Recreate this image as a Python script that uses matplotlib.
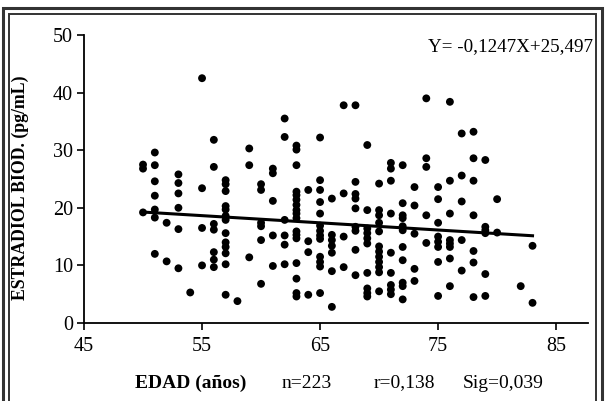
import matplotlib
matplotlib.use("Agg")
import matplotlib.pyplot as plt
from matplotlib.patches import Rectangle
import numpy as np

# ---------------------------------------------------------------------------
# Data (age in years, bioavailable estradiol pg/mL)
# ---------------------------------------------------------------------------
edad = (
    [50] * 3 + [51] * 7 + [52] * 2 + [53] * 6 + [54] * 1 + [55] * 4
    + [56] * 7 + [57] * 13 + [58] * 1 + [59] * 3 + [60] * 6 + [61] * 5
    + [62] * 6 + [63] * 17 + [64] * 4 + [65] * 13 + [66] * 7 + [67] * 4
    + [68] * 9 + [69] * 10 + [70] * 12 + [71] * 9 + [72] * 11 + [73] * 5
    + [74] * 5 + [75] * 8 + [76] * 8 + [77] * 5 + [78] * 7 + [79] * 6
    + [80] * 2 + [82] * 1 + [83] * 2
)
estradiol = [
    27.5, 26.8, 19.2,                                   # 50
    29.6, 27.4, 24.6, 22.1, 19.7, 18.3, 12.0,           # 51
    17.4, 10.7,                                         # 52
    25.8, 24.3, 22.5, 20.0, 16.3, 9.5,                  # 53
    5.3,                                                # 54
    42.5, 23.4, 16.5, 10.0,                             # 55
    31.8, 27.1, 17.2, 16.2, 12.3, 11.0, 9.7,            # 56
    24.8, 24.1, 22.9, 20.3, 19.7, 18.6, 17.9, 15.6,
    14.0, 13.2, 12.1, 10.2, 4.9,                        # 57
    3.8,                                                # 58
    30.3, 27.4, 11.4,                                   # 59
    24.1, 23.1, 17.4, 16.8, 14.4, 6.8,                  # 60
    26.8, 26.0, 21.2, 15.2, 9.9,                        # 61
    35.5, 32.3, 17.9, 15.2, 13.6, 10.2,                 # 62
    30.8, 30.1, 27.4, 22.8, 22.2, 21.4, 20.5, 19.6, 19.0,
    18.2, 15.9, 15.3, 14.7, 10.4, 7.7, 5.2, 4.6,        # 63
    23.1, 14.2, 12.3, 4.9,                              # 64
    32.2, 24.8, 23.1, 21.0, 19.0, 16.9, 16.0, 15.2,
    14.6, 11.5, 10.6, 9.8, 5.2,                         # 65
    21.6, 15.3, 14.4, 13.4, 12.2, 9.0, 2.8,             # 66
    37.8, 22.5, 15.0, 9.7,                              # 67
    37.8, 24.5, 22.4, 21.6, 19.9, 16.7, 16.0, 12.7, 8.3,  # 68
    30.9, 19.6, 16.4, 15.6, 14.7, 13.8, 8.7, 6.0, 5.2, 4.6,  # 69
    24.2, 19.6, 17.4, 15.9, 13.3, 12.4, 11.5, 10.6,
    9.7, 8.8, 5.5, 18.7,                                # 70
    27.8, 26.8, 24.7, 19.0, 12.2, 8.7, 6.6, 5.8, 5.0,   # 71
    27.4, 20.8, 18.7, 18.2, 16.8, 16.1, 13.2, 10.9,
    7.0, 6.4, 4.1,                                      # 72
    23.6, 20.4, 15.5, 9.4, 7.3,                         # 73
    39.0, 28.6, 27.1, 18.7, 13.9,                       # 74
    23.6, 21.5, 17.4, 15.0, 14.1, 13.2, 10.6, 4.7,      # 75
    38.4, 24.7, 19.0, 14.4, 13.8, 13.2, 11.2, 6.4,      # 76
    32.9, 25.6, 21.1, 14.4, 9.1,                        # 77
    33.2, 28.6, 24.7, 18.7, 12.5, 10.5, 4.5,            # 78
    28.3, 16.7, 16.1, 15.6, 8.5, 4.7,                   # 79
    21.5, 15.7,                                         # 80
    6.4,                                                # 82
    13.4, 3.5,                                          # 83
]

# regression reported in the figure
SLOPE = -0.1247
INTERCEPT = 25.497
LINE_X = [50, 83]

x_ticks = [45, 55, 65, 75, 85]
y_ticks = [0, 10, 20, 30, 40, 50]

SERIF = ["Liberation Serif", "DejaVu Serif"]

W, H = 605, 401
fig = plt.figure(figsize=(W / 100, H / 100), dpi=100)
fig.patch.set_facecolor("white")

ax = fig.add_axes([84 / W, 1 - 323 / H, (588 - 84) / W, (323 - 35) / H])

ax.scatter(edad, estradiol, s=32, color="black", edgecolors="none", zorder=3)

line_x = np.array(LINE_X)
ax.plot(line_x, SLOPE * line_x + INTERCEPT, color="black", linewidth=2.2, zorder=4)

ax.set_xlim(45, 87.7)
ax.set_ylim(0, 50)
ax.set_xticks(x_ticks)
ax.set_yticks(y_ticks)
ax.spines["top"].set_visible(False)
ax.spines["right"].set_visible(False)
ax.spines["left"].set_linewidth(1.3)
ax.spines["bottom"].set_linewidth(1.3)
ax.tick_params(direction="out", length=5, width=1.2, pad=3, labelsize=14.5)
for lbl in ax.get_xticklabels() + ax.get_yticklabels():
    lbl.set_fontfamily(SERIF)
ax.xaxis.set_tick_params(pad=5)

fig.text(593 / W, 1 - 47 / H, "Y= -0,1247X+25,497", ha="right", va="center",
         fontsize=13.7, family=SERIF)

fig.text(20 / W, 1 - 188 / H, "ESTRADIOL BIOD. (pg/mL)", rotation=90,
         ha="center", va="center", fontsize=12.8, fontweight="bold", family=SERIF)

y_bot = 1 - 383 / H
fig.text(191 / W, y_bot, "EDAD (años)", ha="center", va="center",
         fontsize=14, fontweight="bold", family=SERIF)
fig.text(307 / W, y_bot, "n=223", ha="center", va="center", fontsize=14, family=SERIF)
fig.text(404 / W, y_bot, "r=0,138", ha="center", va="center", fontsize=14, family=SERIF)
fig.text(503 / W, y_bot, "Sig=0,039", ha="center", va="center", fontsize=14, family=SERIF)

# double frame around the figure
fig.patches.append(Rectangle((3 / W, -0.05), (W - 3 - 3) / W, 1.05 - 8 / H,
                             transform=fig.transFigure, fill=False,
                             edgecolor="#333333", linewidth=2.2))
fig.patches.append(Rectangle((9 / W, -0.05), (W - 9 - 9) / W, 1.05 - 14 / H,
                             transform=fig.transFigure, fill=False,
                             edgecolor="#333333", linewidth=1.4))

fig.savefig("out.png", dpi=100)
